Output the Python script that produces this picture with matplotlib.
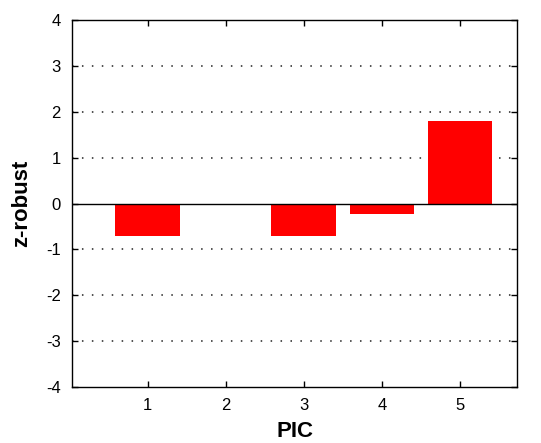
import matplotlib
matplotlib.use("Agg")
import matplotlib.pyplot as plt

categories = [1, 2, 3, 4, 5]
values = [-0.7, 0.0, -0.7, -0.22, 1.8]
yticks = [-4, -3, -2, -1, 0, 1, 2, 3, 4]

plt.rcParams['font.family'] = ['Liberation Sans', 'DejaVu Sans']
plt.rcParams['axes.unicode_minus'] = False
fig = plt.figure(figsize=(5.41, 4.43), dpi=100)
ax = fig.add_axes([72/541, 1 - 387/443, (517-72)/541, (387-20)/443])

for y in [-3, -2, -1, 1, 2, 3]:
    ax.axhline(y, color='#222222', linestyle=(0, (1, 5.5)), linewidth=1.1, zorder=1)
ax.bar(categories, values, width=0.83, color='#ff0000', zorder=2)
ax.axhline(0, color='black', linewidth=1.0, zorder=3)

ax.set_xlim(0.03, 5.73)
ax.set_ylim(-4, 4)
ax.set_xticks(categories)
ax.set_yticks(yticks)
ax.tick_params(direction='in', top=True, right=True, labelsize=12, length=4, width=1)
ax.tick_params(axis='x', pad=8)
ax.tick_params(axis='y', pad=8)
for s in ax.spines.values():
    s.set_linewidth(1.0)
ax.set_xlabel('PIC', fontsize=16, fontweight='bold', labelpad=6)
ax.set_ylabel('z-robust', fontsize=16, fontweight='bold', labelpad=10)

fig.savefig('out.png', dpi=100)
